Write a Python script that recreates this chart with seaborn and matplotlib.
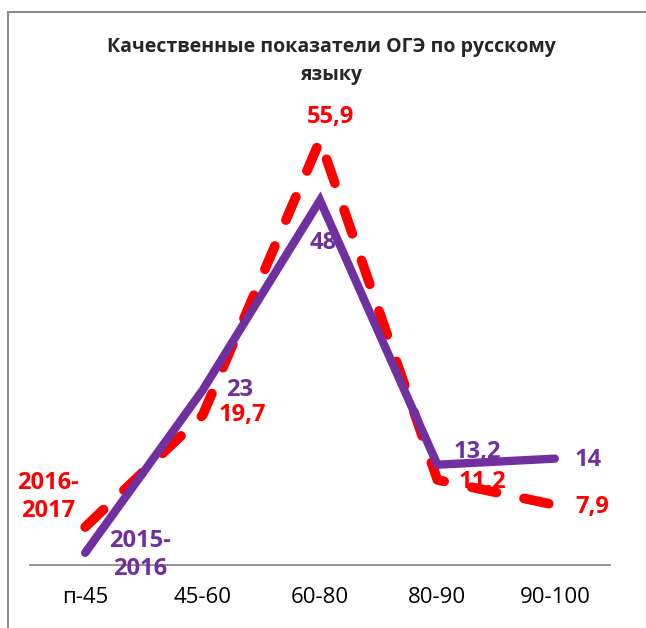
import numpy as np
import pandas as pd
import seaborn as sns
import matplotlib.pyplot as plt
from matplotlib.patches import Rectangle

# score bands and shares for two school years
categories = ["п-45", "45-60", "60-80", "80-90", "90-100"]
year_2016 = [1.6, 23, 48, 13.2, 14]      # 2015-2016, purple solid
year_2017 = [5.0, 19.7, 55.9, 11.2, 7.9]  # 2016-2017, red dashed
name_2016 = "2015-\n2016"
name_2017 = "2016-\n2017"

PURPLE = "#7030A0"
RED = "#FF0000"

sns.set_theme(style="white")
plt.rcParams["font.family"] = ["Open Sans", "DejaVu Sans"]

df = pd.DataFrame({
    "pos": np.arange(len(categories)),
    "y2016": year_2016,
    "y2017": year_2017,
})

fig = plt.figure(figsize=(6.46, 6.28), dpi=100)
ax = fig.add_axes([30 / 646, 63 / 628, 580 / 646, 465 / 628])

sns.lineplot(data=df, x="pos", y="y2017", ax=ax, color=RED, linewidth=7,
             linestyle=(0, (2.6, 2.9)), dash_capstyle="round")
sns.lineplot(data=df, x="pos", y="y2016", ax=ax, color=PURPLE, linewidth=6,
             solid_capstyle="round", solid_joinstyle="miter")

ax.set_xlim(-0.47, 4.47)
ax.set_ylim(0, 61.2)
ax.set_xticks(df["pos"])
ax.set_xticklabels(categories, fontsize=16, color="black")
ax.tick_params(axis="x", length=0, pad=16)
ax.set_yticks([])
ax.set_xlabel("")
ax.set_ylabel("")
for s in ["left", "right", "top"]:
    ax.spines[s].set_visible(False)
ax.spines["bottom"].set_color("#8c8c8c")
ax.spines["bottom"].set_linewidth(1.3)


def fmt(v):
    return f"{v:g}".replace(".", ",")


# label offsets in pixels (dx, dy)
off_2016 = [None, (37, 0), (3, -43), (40, 13), (33, -1)]
off_2017 = [None, (40, 0), (10, 23), (45, -2), (37, -2)]
lab = dict(textcoords="offset points", ha="center", va="center",
           fontsize=17, fontweight="bold")
for i, v in enumerate(year_2016):
    if off_2016[i] is None:
        continue
    dx, dy = off_2016[i]
    ax.annotate(fmt(v), (i, v), xytext=(dx * 0.72, dy * 0.72), color=PURPLE, **lab)
for i, v in enumerate(year_2017):
    if off_2017[i] is None:
        continue
    dx, dy = off_2017[i]
    ax.annotate(fmt(v), (i, v), xytext=(dx * 0.72, dy * 0.72), color=RED, **lab)

ax.annotate(name_2017, (0, year_2017[0]), xytext=(-37 * 0.72, 30 * 0.72),
            color=RED, linespacing=1.25, **lab)
ax.annotate(name_2016, (0, year_2016[0]), xytext=(55 * 0.72, -2 * 0.72),
            color=PURPLE, linespacing=1.25, **lab)

fig.text(331 / 646, 1 - 61 / 628, "Качественные показатели ОГЭ по русскому\nязыку",
         ha="center", va="center", fontsize=14, fontweight="bold",
         linespacing=1.55)

# chart border
fig.patches.append(Rectangle((8 / 646, -0.1), 1.2, 1 - 12 / 628 + 0.1,
                             transform=fig.transFigure, fill=False,
                             edgecolor="#8c8c8c", linewidth=1.5))

fig.savefig("out.png", dpi=100)
